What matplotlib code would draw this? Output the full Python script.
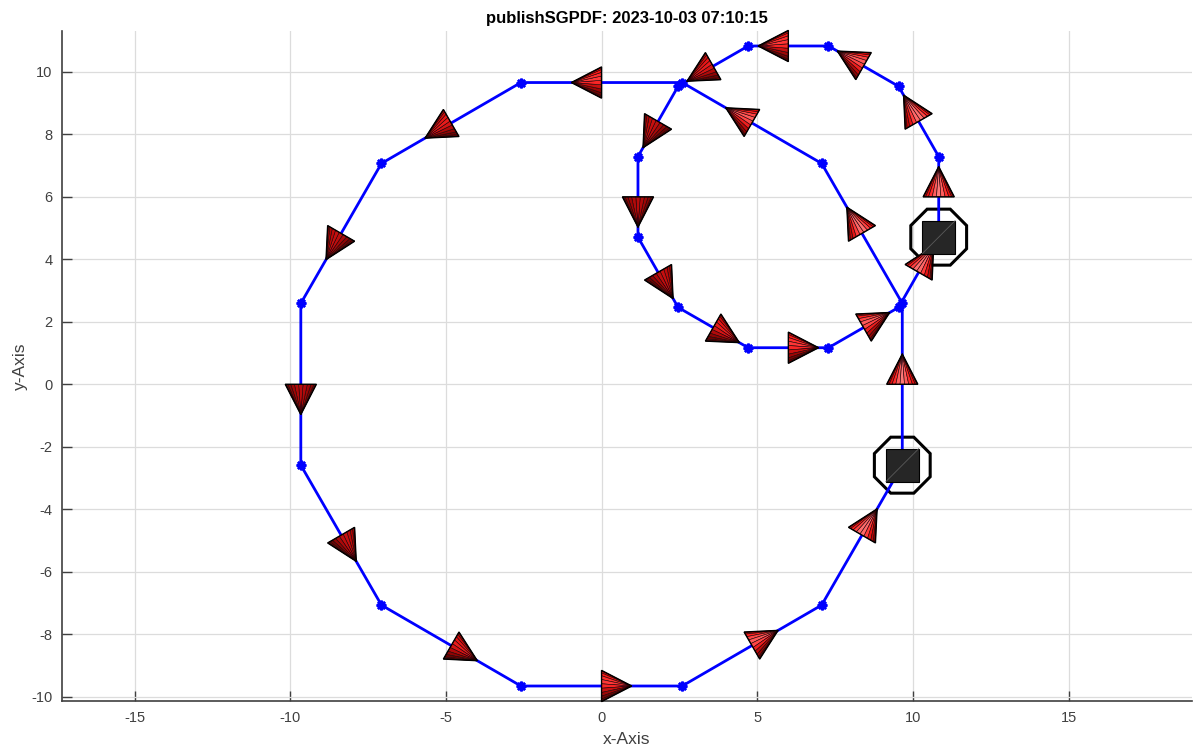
import numpy as np
import matplotlib
matplotlib.use("Agg")
import matplotlib.pyplot as plt
from matplotlib.patches import Polygon, RegularPolygon, Rectangle
from matplotlib.collections import PolyCollection

plt.rcParams['font.family'] = ['Liberation Sans', 'DejaVu Sans']
plt.rcParams['axes.unicode_minus'] = False

# vertices of the two closed paths (first point == last point)
big_x = [9.66, 9.66, 7.07, 2.59, -2.59, -7.07, -9.66, -9.66, -7.07, -2.59, 2.59, 7.07, 9.66]
big_y = [-2.59, 2.59, 7.07, 9.66, 9.66, 7.07, 2.59, -2.59, -7.07, -9.66, -9.66, -7.07, -2.59]

small_x = [10.83, 10.83, 9.54, 7.29, 4.71, 2.46, 1.17, 1.17, 2.46, 4.71, 7.29, 9.54, 10.83]
small_y = [4.71, 7.29, 9.54, 10.83, 10.83, 9.54, 7.29, 4.71, 2.46, 1.17, 1.17, 2.46, 4.71]

x_ticks = [-15, -10, -5, 0, 5, 10, 15]
y_ticks = [-10, -8, -6, -4, -2, 0, 2, 4, 6, 8, 10]

title_text = "publishSGPDF: 2023-10-03 07:10:15"


def cone_facets(p0, p1, length=0.97, radius=0.5, n=11):
    # fake 3d cone sitting on the segment midpoint, seen from above
    p0 = np.array(p0, dtype=float)
    p1 = np.array(p1, dtype=float)
    mid = (p0 + p1) / 2
    d = (p1 - p0) / np.linalg.norm(p1 - p0)
    perp = np.array([-d[1], d[0]])
    tip = mid + length * d

    light = np.array([0.0, 0.6, 0.8])
    light = light / np.linalg.norm(light)
    half = light + np.array([0, 0, 1.0])
    half = half / np.linalg.norm(half)

    phis = np.linspace(0, np.pi, n + 1)
    polys = []
    colors = []
    for k in range(n):
        a, b = phis[k], phis[k + 1]
        pa = mid + radius * np.cos(a) * perp
        pb = mid + radius * np.cos(b) * perp
        polys.append([tip, pa, pb])
        pm = (a + b) / 2
        radial = np.array([np.cos(pm) * perp[0], np.cos(pm) * perp[1], np.sin(pm)])
        nrm = length * radial + radius * np.array([d[0], d[1], 0])
        nrm = nrm / np.linalg.norm(nrm)
        diff = max(np.dot(nrm, light), 0)
        spec = max(np.dot(nrm, half), 0) ** 8 * 0.75
        inten = 0.42 + 0.62 * diff
        c = np.array([inten, 0.03 * inten, 0.03 * inten]) + spec * np.array([0.6, 0.65, 0.65])
        colors.append(np.clip(c, 0, 1))
    outline = [tip, mid + radius * perp, mid - radius * perp]
    return polys, colors, outline


def draw_path(ax, xs, ys):
    # ring under the line, square on top
    ax.add_patch(RegularPolygon((xs[0], ys[0]), 8, radius=0.97, orientation=np.pi / 8,
                                fill=False, edgecolor='black', linewidth=2.2, zorder=3))
    ax.plot(xs, ys, color='blue', linewidth=2.0, marker=(8, 2, 0), markersize=7,
            markeredgewidth=1.8, zorder=4)
    for i in range(len(xs) - 1):
        polys, colors, outline = cone_facets((xs[i], ys[i]), (xs[i + 1], ys[i + 1]))
        pc = PolyCollection(polys, facecolors=colors, edgecolors='#1a0000', linewidths=0.4,
                            zorder=5, clip_on=False)
        ax.add_collection(pc)
        ax.add_patch(Polygon(outline, closed=True, fill=False, edgecolor='black',
                             linewidth=1.0, zorder=5, clip_on=False))
    s = 0.525
    ax.add_patch(Rectangle((xs[0] - s, ys[0] - s), 2 * s, 2 * s, facecolor='#262626',
                           edgecolor='black', linewidth=0.8, zorder=6))
    ax.plot([xs[0] - s, xs[0] + s], [ys[0] - s, ys[0] + s], color='#5a5a5a', linewidth=0.6, zorder=7)


fig = plt.figure(figsize=(11.93, 7.54), dpi=100)
ax = fig.add_axes([0.052, 0.0703, 0.947, 0.8886])

draw_path(ax, big_x, big_y)
draw_path(ax, small_x, small_y)

ax.set_xlim(-17.33, 18.96)
ax.set_ylim(-10.14, 11.31)
ax.set_xticks(x_ticks)
ax.set_yticks(y_ticks)
ax.grid(True, color='#dcdcdc', linewidth=0.9)
ax.set_axisbelow(True)
for side in ['top', 'right']:
    ax.spines[side].set_visible(False)
for side in ['left', 'bottom']:
    ax.spines[side].set_color('#404040')
    ax.spines[side].set_linewidth(1.2)
ax.tick_params(direction='in', length=7.5, width=1.0, color='#404040', labelcolor='#404040',
               labelsize=10.5, pad=7)

ax.set_title(title_text, fontsize=12, fontweight='bold', pad=6)
ax.set_xlabel("x-Axis", fontsize=12.5, color='#404040', labelpad=5)
ax.set_ylabel("y-Axis", fontsize=12.5, color='#404040', labelpad=2)

fig.savefig("out.png", dpi=100)
